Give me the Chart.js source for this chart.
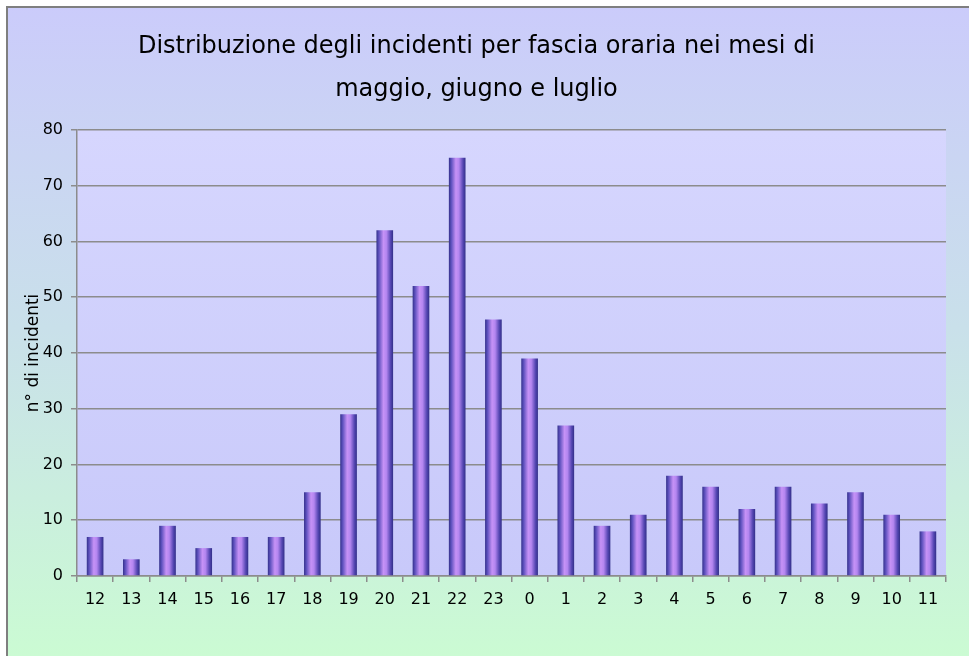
<!DOCTYPE html>
<html>
<head>
<meta charset="utf-8">
<script src="https://cdn.jsdelivr.net/npm/chart.js@4/dist/chart.umd.min.js"></script>
<style>
  html, body { margin: 0; padding: 0; background: #ffffff; }
  #wrap { width: 969px; height: 656px; position: relative; }
</style>
</head>
<body>
<div id="wrap"><canvas id="chart"></canvas></div>
<script>
// ---- dati ----
const fasce = ['12','13','14','15','16','17','18','19','20','21','22','23',
               '0','1','2','3','4','5','6','7','8','9','10','11'];
const incidenti = [7, 3, 9, 5, 7, 7, 15, 29, 62, 52, 75, 46,
                   39, 27, 9, 11, 18, 16, 12, 16, 13, 15, 11, 8];
const yTicks = [0, 10, 20, 30, 40, 50, 60, 70, 80];
const titolo = ['Distribuzione degli incidenti per fascia oraria nei mesi di',
                'maggio, giugno e luglio'];
const titoloAsseY = 'n° di incidenti';

const comic = "'Comic Sans MS', 'DejaVu Sans', sans-serif";
const BAR_PCT = 0.46;

// sfondo sfumato + bordo + area del grafico
const sfondo = {
  id: 'sfondo',
  beforeDraw(chart) {
    const { ctx, width, height, chartArea } = chart;
    ctx.save();
    let g = ctx.createLinearGradient(0, 0, 0, height);
    g.addColorStop(0, '#cbcbfb');
    g.addColorStop(0.5, '#c9e0ea');
    g.addColorStop(1, '#cbfbd3');
    ctx.fillStyle = g;
    ctx.fillRect(7, 7, width - 7, height - 7);

    ctx.strokeStyle = '#7f7f7f';
    ctx.lineWidth = 2;
    ctx.beginPath();
    ctx.moveTo(7, height);
    ctx.lineTo(7, 7);
    ctx.lineTo(width, 7);
    ctx.stroke();

    if (chartArea) {
      g = ctx.createLinearGradient(0, chartArea.top, 0, chartArea.bottom);
      g.addColorStop(0, '#d6d6fe');
      g.addColorStop(1, '#c8c9fa');
      ctx.fillStyle = g;
      ctx.fillRect(chartArea.left, chartArea.top,
                   chartArea.right - chartArea.left, chartArea.bottom - chartArea.top);
    }
    ctx.restore();
  }
};

// colore "cilindro" per ogni barra
function coloreBarra(context) {
  const chart = context.chart;
  const area = chart.chartArea;
  if (!area) return '#8a70e0';
  const x = chart.scales.x.getPixelForValue(context.dataIndex);
  const w = (area.right - area.left) / fasce.length * BAR_PCT;
  const g = chart.ctx.createLinearGradient(x - w / 2, 0, x + w / 2, 0);
  g.addColorStop(0, '#34318c');
  g.addColorStop(0.15, '#5f52bf');
  g.addColorStop(0.42, '#c692f6');
  g.addColorStop(0.6, '#b486f0');
  g.addColorStop(0.85, '#5446b2');
  g.addColorStop(1, '#322f88');
  return g;
}

new Chart(document.getElementById('chart'), {
  type: 'bar',
  data: {
    labels: fasce,
    datasets: [{
      data: incidenti,
      backgroundColor: coloreBarra,
      borderWidth: 0,
      barPercentage: BAR_PCT,
      categoryPercentage: 1
    }]
  },
  options: {
    responsive: true,
    maintainAspectRatio: false,
    animation: false,
    layout: { padding: { left: 7, right: 23, top: 8, bottom: 0 } },
    plugins: {
      legend: { display: false },
      tooltip: { enabled: false },
      title: {
        display: true,
        text: titolo,
        color: '#000000',
        font: { family: comic, size: 24, weight: 'normal', lineHeight: 1.79 },
        padding: { top: 17, bottom: 19 }
      }
    },
    scales: {
      x: {
        offset: true,
        grid: { display: true, drawOnChartArea: false, drawTicks: true, tickLength: 6,
                color: '#8c8c8c', lineWidth: 1.5, offset: true },
        border: { display: true, color: '#8c8c8c', width: 1.5 },
        ticks: { color: '#000', font: { family: comic, size: 16 }, padding: 8 },
        afterFit(scale) { scale.height = 80; }
      },
      y: {
        min: 0, max: 80,
        afterBuildTicks(scale) { scale.ticks = yTicks.map(v => ({ value: v })); },
        grid: { color: '#8c8c8c', lineWidth: 1.5, tickLength: 6 },
        border: { display: true, color: '#8c8c8c', width: 1.5 },
        ticks: { color: '#000', font: { family: "'DejaVu Sans', sans-serif", size: 16 }, padding: 8 },
        title: {
          display: true,
          text: titoloAsseY,
          color: '#000',
          font: { family: comic, size: 17 },
          padding: { top: 16, bottom: 0 }
        },
        afterFit(scale) { scale.width = 70; }
      }
    }
  },
  plugins: [sfondo]
});
</script>
</body>
</html>
